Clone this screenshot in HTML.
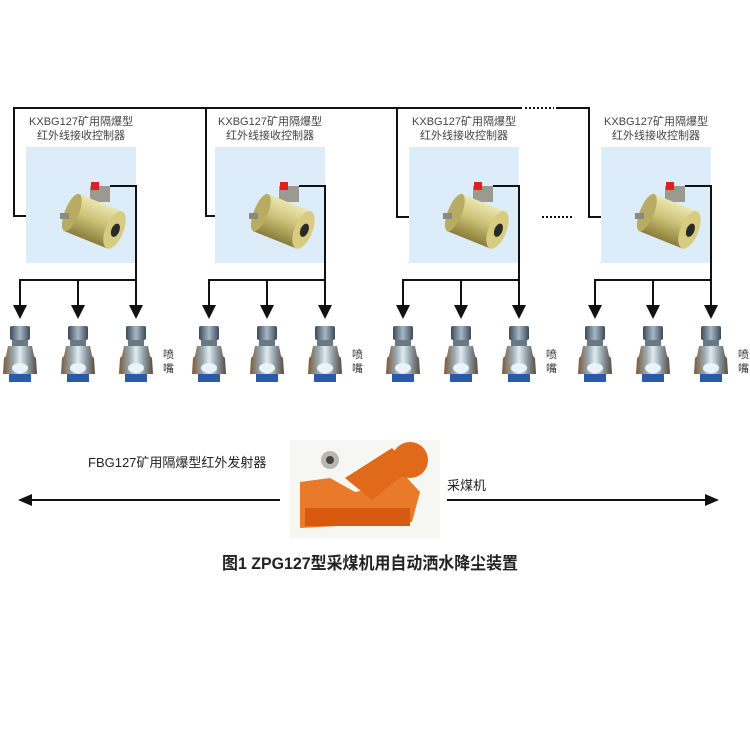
<!DOCTYPE html>
<html><head><meta charset="utf-8"><style>
html,body{margin:0;padding:0;background:#fff;}
svg{display:block;font-family:"Liberation Sans","Noto Sans CJK SC",sans-serif;}
</style></head><body>
<svg width="750" height="750" viewBox="0 0 750 750" xmlns="http://www.w3.org/2000/svg">
<defs>
<linearGradient id="cyl" x1="0" y1="0" x2="0" y2="1">
<stop offset="0" stop-color="#ece6b0"/><stop offset="0.45" stop-color="#cfc27a"/><stop offset="1" stop-color="#8a7d3a"/>
</linearGradient>
<linearGradient id="noz" x1="0" y1="0" x2="1" y2="0">
<stop offset="0" stop-color="#7a5a3a"/><stop offset="0.3" stop-color="#9aa6ae"/><stop offset="0.5" stop-color="#e0ecf0"/><stop offset="0.75" stop-color="#8a98a2"/><stop offset="1" stop-color="#5a4a3a"/>
</linearGradient>
<linearGradient id="cap" x1="0" y1="0" x2="1" y2="0">
<stop offset="0" stop-color="#3a4a5a"/><stop offset="0.5" stop-color="#a8b8c4"/><stop offset="1" stop-color="#3a4a5a"/>
</linearGradient>
<g id="nozzle">
<rect x="-10" y="326" width="20" height="14" rx="2" fill="url(#cap)"/>
<rect x="-8" y="340" width="16" height="6" fill="#6a7884"/>
<path d="M-12 346 L12 346 L14 356 L16 358 L17 374 L-17 374 L-16 358 L-14 356 Z" fill="url(#noz)"/>
<ellipse cx="0" cy="368" rx="8" ry="5" fill="#e8f4f8"/>
<rect x="-11" y="374" width="22" height="8" fill="#2a5aa8"/>
</g>
<g id="ctrl">
<rect x="90" y="186" width="20" height="16" fill="#9a9a90"/>
<rect x="91" y="182" width="8" height="8" fill="#e02020"/>
<g transform="rotate(22 95 222)">
<rect x="70" y="202" width="46" height="40" fill="url(#cyl)"/>
<ellipse cx="70" cy="222" rx="7" ry="20" fill="#b8ac62"/>
<ellipse cx="116" cy="222" rx="9" ry="20" fill="#d8cc80"/>
<ellipse cx="117" cy="222" rx="4" ry="7" fill="#2a2a2a"/>
</g>
<rect x="60" y="213" width="9" height="6" fill="#8a8a80"/>
</g>
<g id="grp">
<rect x="26" y="147" width="110" height="116" fill="#dcecf8"/>
<use href="#ctrl"/>
<text x="81" y="125" font-size="11" text-anchor="middle" fill="#444">KXBG127矿用隔爆型</text>
<text x="81" y="139" font-size="11" text-anchor="middle" fill="#444">红外线接收控制器</text>
<polyline points="110,186 136,186 136,280 20,280 20,306" fill="none" stroke="#111" stroke-width="2"/>
<line x1="78" y1="280" x2="78" y2="306" stroke="#111" stroke-width="2"/>
<line x1="136" y1="280" x2="136" y2="306" stroke="#111" stroke-width="2"/>
<path d="M13 305 L27 305 L20 319 Z M71 305 L85 305 L78 319 Z M129 305 L143 305 L136 319 Z" fill="#111"/>
<use href="#nozzle" x="20"/><use href="#nozzle" x="78"/><use href="#nozzle" x="136"/>
<text x="163" y="358" font-size="11" fill="#333">喷</text>
<text x="163" y="372" font-size="11" fill="#333">嘴</text>
</g>
</defs>
<polyline points="62,216 14,216 14,108 522,108" fill="none" stroke="#111" stroke-width="2"/>
<line x1="525" y1="108" x2="554" y2="108" stroke="#111" stroke-width="2" stroke-dasharray="2,2"/>
<polyline points="556,108 589,108 589,217 636,217" fill="none" stroke="#111" stroke-width="2"/>
<polyline points="206,108 206,216 252,216" fill="none" stroke="#111" stroke-width="2"/>
<polyline points="397,108 397,217 444,217" fill="none" stroke="#111" stroke-width="2"/>
<line x1="542" y1="217" x2="573" y2="217" stroke="#111" stroke-width="2" stroke-dasharray="2,2"/>
<use href="#grp"/>
<use href="#grp" x="189"/>
<use href="#grp" x="383"/>
<use href="#grp" x="575"/>
<rect x="290" y="440" width="150" height="98" fill="#f6f6f2"/>
<path d="M300 482 L330 478 L355 492 L375 488 L400 470 L420 492 L412 522 L300 528 Z" fill="#e87a2a"/>
<path d="M345 478 L392 448 L412 468 L372 500 Z" fill="#e06a1a"/>
<circle cx="410" cy="460" r="18" fill="#e06a1a"/>
<rect x="305" y="508" width="105" height="18" fill="#d85a10"/>
<circle cx="330" cy="460" r="9" fill="#b8b8b0"/><circle cx="330" cy="460" r="4" fill="#444"/>
<text x="88" y="467" font-size="13" fill="#222">FBG127矿用隔爆型红外发射器</text>
<text x="447" y="490" font-size="13" fill="#222">采煤机</text>
<line x1="28" y1="500" x2="280" y2="500" stroke="#111" stroke-width="2"/>
<path d="M18 500 L32 494 L32 506 Z" fill="#111"/>
<line x1="447" y1="500" x2="708" y2="500" stroke="#111" stroke-width="2"/>
<path d="M719 500 L705 494 L705 506 Z" fill="#111"/>
<text x="222" y="569" font-size="17" font-weight="bold" fill="#222" textLength="296" lengthAdjust="spacingAndGlyphs">图1 ZPG127型采煤机用自动洒水降尘装置</text>
</svg>
</body></html>
